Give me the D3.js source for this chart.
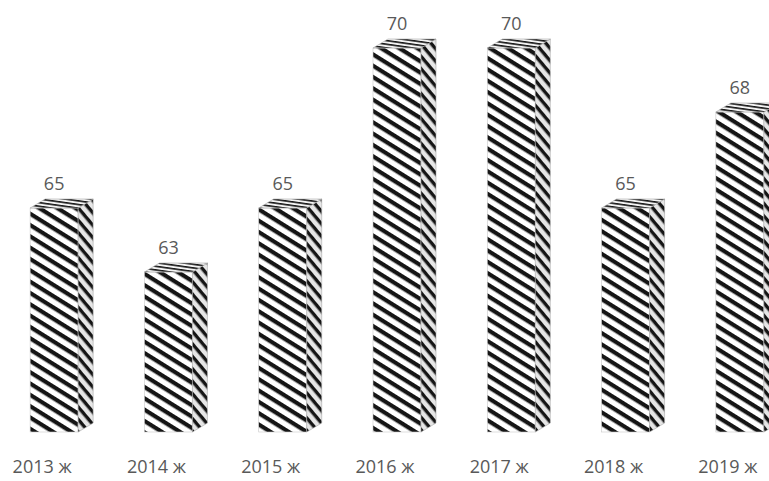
<!DOCTYPE html>
<html>
<head>
<meta charset="utf-8">
<script src="https://cdn.jsdelivr.net/npm/d3@7"></script>
<style>
  body { margin: 0; background: #fff; }
  svg { display: block; }
</style>
</head>
<body>
<div id="chart"></div>
<script>
// data
var years = ["2013 ж", "2014 ж", "2015 ж", "2016 ж", "2017 ж", "2018 ж", "2019 ж"];
var values = [65, 63, 65, 70, 70, 65, 68];

var width = 769, height = 481;

var bars = years.map(function(y, i) { return { year: y, value: values[i] }; });

var svg = d3.select("#chart").append("svg")
    .attr("width", width)
    .attr("height", height);

var defs = svg.append("defs");

// striped fills for front, side and top faces
function stripes(id, angle, period, thick, bg) {
  var p = defs.append("pattern")
      .attr("id", id)
      .attr("patternUnits", "userSpaceOnUse")
      .attr("width", period)
      .attr("height", period)
      .attr("patternTransform", "rotate(" + angle + ")");
  p.append("rect").attr("width", period).attr("height", period).attr("fill", bg);
  p.append("rect").attr("y", 0).attr("width", period).attr("height", thick).attr("fill", "#151515");
}
stripes("frontPat", 32, 9.6, 4.2, "#fff");
stripes("sidePat", 50, 8, 3.4, "#e6e6e6");
stripes("topPat", 8, 3.6, 1.6, "#f4f4f4");

// the last bar runs past the right edge, as in the picture
var x = d3.scaleBand()
    .domain(years)
    .range([-3, 797])
    .paddingInner(0.58)
    .paddingOuter(0.29);

var y = d3.scaleLinear()
    .domain([58, 70])
    .range([432, 48]);

var depthX = 15, depthY = 9;

var g = svg.append("g");

var bar = g.selectAll("g.bar")
    .data(bars)
  .enter().append("g")
    .attr("class", "bar");

// front face
bar.append("rect")
    .attr("x", function(d) { return x(d.year); })
    .attr("y", function(d) { return y(d.value); })
    .attr("width", x.bandwidth())
    .attr("height", function(d) { return y(58) - y(d.value); })
    .attr("fill", "url(#frontPat)")
    .attr("stroke", "#c8c8c8")
    .attr("stroke-width", 0.6);

// side face
bar.append("path")
    .attr("d", function(d) {
      var x1 = x(d.year) + x.bandwidth(), t = y(d.value), b = y(58);
      return "M" + x1 + "," + t +
             "L" + (x1 + depthX) + "," + (t - depthY) +
             "L" + (x1 + depthX) + "," + (b - depthY) +
             "L" + x1 + "," + b + "Z";
    })
    .attr("fill", "url(#sidePat)")
    .attr("stroke", "#aaa")
    .attr("stroke-width", 0.6);

// top face
bar.append("path")
    .attr("d", function(d) {
      var x0 = x(d.year), x1 = x0 + x.bandwidth(), t = y(d.value);
      return "M" + x0 + "," + t +
             "L" + x1 + "," + t +
             "L" + (x1 + depthX) + "," + (t - depthY) +
             "L" + (x0 + depthX) + "," + (t - depthY) + "Z";
    })
    .attr("fill", "url(#topPat)")
    .attr("stroke", "#aaa")
    .attr("stroke-width", 0.6);

// value labels
bar.append("text")
    .attr("x", function(d) { return x(d.year) + x.bandwidth() / 2; })
    .attr("y", function(d) { return y(d.value) - depthY - 9; })
    .attr("text-anchor", "middle")
    .style("font-family", "'Open Sans', sans-serif")
    .style("font-size", "18px")
    .style("fill", "#595959")
    .text(function(d) { return d.value; });

// category labels
bar.append("text")
    .attr("x", function(d) { return x(d.year) + x.bandwidth() / 2 - 12; })
    .attr("y", 473)
    .attr("text-anchor", "middle")
    .style("font-family", "'Open Sans', sans-serif")
    .style("font-size", "18px")
    .style("fill", "#595959")
    .text(function(d) { return d.year; });
</script>
</body>
</html>
